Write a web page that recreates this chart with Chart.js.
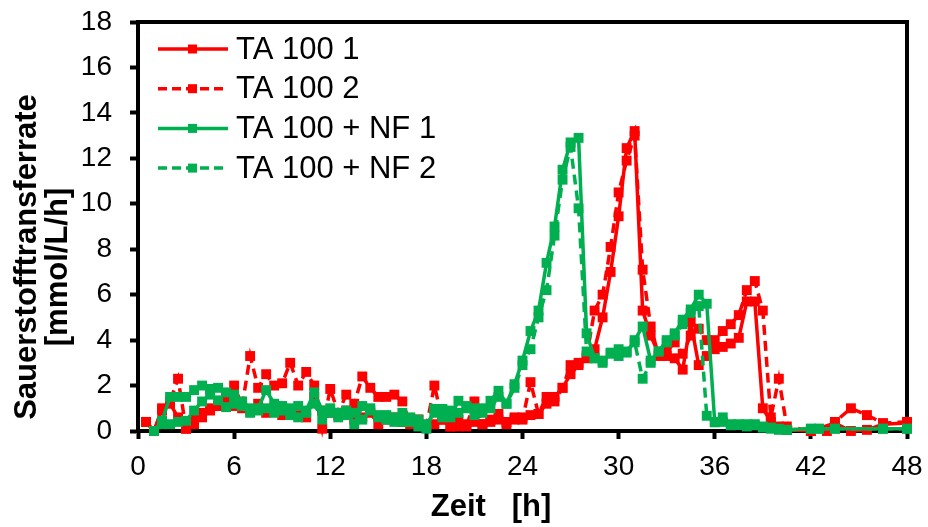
<!DOCTYPE html>
<html>
<head>
<meta charset="utf-8">
<script src="https://cdn.jsdelivr.net/npm/chart.js@4.4.0/dist/chart.umd.min.js"></script>
<style>
  html, body { margin: 0; padding: 0; background: #fff; }
  #wrap { width: 928px; height: 527px; }
</style>
</head>
<body>
<div id="wrap"><canvas id="otrChart" width="928" height="527"></canvas></div>
<script>
// sampling times [h]
const zeit = [
  0.5, 1, 1.5, 2, 2.5, 3, 3.5, 4, 4.5, 5, 5.5, 6,
  6.5, 7, 7.5, 8, 8.5, 9, 9.5, 10, 10.5, 11, 11.5, 12,
  12.5, 13, 13.5, 14, 14.5, 15, 15.5, 16, 16.5, 17, 17.5, 18,
  18.5, 19, 19.5, 20, 20.5, 21, 21.5, 22, 22.5, 23, 23.5, 24,
  24.5, 25, 25.5, 26, 26.5, 27, 27.5, 28, 28.5, 29, 29.5, 30,
  30.5, 31, 31.5, 32, 32.5, 33, 33.5, 34, 34.5, 35, 35.5, 36,
  36.5, 37, 37.5, 38, 38.5, 39, 39.5, 40, 40.5, 41, 41.5, 42,
  42.5, 43, 43.5, 44, 44.5, 45, 45.5, 46, 46.5, 47, 47.5, 48
];

// OTR [mmol/L/h], null = no sample
const ta100_1 = [
  0.4, 0.0, 1.0, 1.2, 0.6, 0.1, 0.5, 0.8, 1.0, 1.1, 1.3, 1.1,
  1.0, 0.9, 1.2, 0.8, 1.0, 0.7, 0.9, 0.8, 0.6, 1.5, 0.9, 0.8,
  0.7, 0.9, 0.5, 0.6, 0.8, 0.3, 0.5, 0.6, 0.4, 0.3, 0.5, 0.2,
  0.3, 0.5, 0.2, 0.2, 0.3, 0.4, 0.3, 0.4, 0.5, 0.4, 0.5, 0.6,
  0.7, 0.75, 1.2, 1.5, 1.9, 2.5, 2.9, 3.2, 3.6, 5.0, 7.0, 9.45,
  12.45, 13.2, 5.3, 4.2, 3.4, 3.3, 3.2, 2.7, 4.8, 2.9, 3.3, 3.6,
  3.7, 3.85, 4.1, 5.7, 5.7, 1.0, 0.4, 0.2, 0.05, null, null, 0.0,
  null, null, 0.35, null, 0.0, null, 0.05, null, 0.3, null, null, 0.35
];
const ta100_2 = [
  0.4, 0.0, 0.9, 1.3, 2.3, 0.1, 0.3, 0.6, 0.9, 1.1, 1.5, 2.0,
  1.1, 3.3, 1.9, 2.5, 2.0, 2.1, 3.0, 2.0, 2.6, 2.0, 0.1, 1.85,
  0.8, 1.6, 1.2, 2.4, 1.9, 1.5, 1.5, 1.6, 1.3, 0.3, 0.5, 0.2,
  2.0, 0.5, 0.2, 0.5, 0.2, 1.3, 0.3, 0.5, 0.75, 0.3, 0.6, 0.5,
  2.15, 0.75, 1.5, 1.3, 1.9, 2.9, 3.0, 3.3, 5.3, 6.0, 8.1, 10.5,
  11.9, 13.0, 7.1, 4.6, 3.3, 3.5, 3.9, 3.4, 4.2, 4.5, 4.0, 4.0,
  4.4, 4.7, 5.1, 6.2, 6.6, 5.3, 0.6, 2.3, 0.2, null, null, 0.0,
  null, 0.0, 0.4, null, 1.0, null, 0.7, null, 0.35, null, null, 0.4
];
const ta100nf_1 = [
  null, 0.0, 0.45, 1.5, 1.5, 1.5, 1.8, 2.0, 1.85, 1.9, 1.7, 1.6,
  1.1, 0.8, 1.0, 1.8, 1.2, 1.1, 0.7, 1.1, 0.9, 1.7, 0.9, 1.0,
  0.8, 0.9, 0.3, 1.1, 1.0, 0.7, 0.7, 0.4, 0.8, 0.4, 0.2, 0.1,
  0.97, 0.97, 0.6, 1.33, 1.0, 1.0, 0.8, 1.33, 1.77, 1.2, 2.06, 3.1,
  4.4, 5.3, 7.4, 9.0, 11.5, 12.7, 12.9, 4.3, 3.2, 3.0, 3.45, 3.6,
  3.45, 4.0, 4.6, 3.1, 3.5, 4.0, 4.3, 4.9, 5.35, 6.0, 5.6, 0.38,
  0.6, 0.3, 0.26, 0.3, 0.3, 0.2, 0.15, 0.1, 0.05, null, null, 0.1,
  0.1, null, 0.1, null, null, null, null, null, 0.1, null, null, 0.1
];
const ta100nf_2 = [
  null, 0.0, 0.3, 0.3, 0.4, 0.45, 0.9, 1.3, 1.6, 1.35, 1.05, 1.2,
  1.3, 1.0, 0.9, 1.0, 0.8, 0.9, 1.0, 0.6, 0.8, 1.2, 0.5, 0.8,
  0.6, 0.7, 0.8, 0.5, 0.9, 0.6, 0.5, 0.6, 0.4, 0.6, 0.5, 0.3,
  0.8, 0.6, 0.9, 0.8, 1.1, 0.7, 1.0, 1.0, 1.5, 1.2, 1.9, 2.9,
  3.6, 5.0, 6.2, 8.6, 11.06, 12.5, 9.8, 3.5, 3.2, 3.1, 3.4, 3.3,
  3.5, 3.9, 2.3, 3.0, 3.5, 3.9, 4.2, 4.7, 5.2, 5.5, 0.67, 0.4,
  0.4, 0.25, 0.3, 0.2, 0.25, 0.15, 0.1, 0.05, 0.05, null, null, 0.1,
  0.1, null, 0.1, null, null, null, null, null, 0.1, null, null, 0.1
];

const xTicks = [0, 6, 12, 18, 24, 30, 36, 42, 48];
const yTicks = [0, 2, 4, 6, 8, 10, 12, 14, 16, 18];

const ROT = '#FF0000';
const GRUEN = '#00B050';
const FONT = '"Liberation Sans", Arial, sans-serif';

function toPoints(values) {
  return zeit.map((t, i) => ({ x: t, y: values[i] }));
}

function series(label, values, color, dashed, order) {
  return {
    label: label,
    data: toPoints(values),
    borderColor: color,
    backgroundColor: color,
    borderWidth: 3.5,
    borderDash: dashed ? [10, 6] : [],
    pointStyle: 'rect',
    pointRadius: 7,
    pointBorderWidth: 0,
    pointHoverRadius: 7,
    spanGaps: true,
    tension: 0,
    clip: false,
    order: order
  };
}

// legend drawn inside the plot, line + marker like the series
const innerLegend = {
  id: 'innerLegend',
  afterDraw(chart) {
    const ctx = chart.ctx;
    const x0 = chart.chartArea.left + 20;
    ctx.save();
    chart.data.datasets.forEach((ds, i) => {
      const y = chart.chartArea.top + 27 + i * 39.7;
      ctx.strokeStyle = ds.borderColor;
      ctx.lineWidth = 3.5;
      ctx.setLineDash(ds.borderDash.length ? [9, 5] : []);
      ctx.beginPath();
      ctx.moveTo(x0, y);
      ctx.lineTo(x0 + 70, y);
      ctx.stroke();
      ctx.setLineDash([]);
      ctx.fillStyle = ds.borderColor;
      ctx.fillRect(x0 + 30, y - 4.5, 9, 9);
      ctx.fillStyle = '#000';
      ctx.font = '31px ' + FONT;
      ctx.textBaseline = 'middle';
      ctx.textAlign = 'left';
      ctx.fillText(ds.label, x0 + 78, y + 1);
    });
    ctx.restore();
  }
};

// top and right edges of the plot frame
const frame = {
  id: 'frame',
  beforeDatasetsDraw(chart) {
    const { ctx, chartArea: a } = chart;
    ctx.save();
    ctx.strokeStyle = '#000';
    ctx.lineWidth = 4;
    ctx.beginPath();
    ctx.moveTo(a.left, a.top);
    ctx.lineTo(a.right, a.top);
    ctx.lineTo(a.right, a.bottom);
    ctx.stroke();
    ctx.restore();
  }
};

// axis titles
const axisTitles = {
  id: 'axisTitles',
  afterDraw(chart) {
    const ctx = chart.ctx;
    ctx.save();
    ctx.fillStyle = '#000';
    ctx.font = 'bold 31px ' + FONT;
    ctx.textAlign = 'center';
    ctx.textBaseline = 'middle';
    ctx.fillText('Zeit   [h]', 491, 507);
    ctx.save();
    ctx.translate(27, 257);
    ctx.rotate(-Math.PI / 2);
    ctx.fillText('Sauerstofftransferrate', 0, 0);
    ctx.restore();
    ctx.save();
    ctx.translate(58, 267);
    ctx.rotate(-Math.PI / 2);
    ctx.fillText('[mmol/L/h]', 0, 0);
    ctx.restore();
    ctx.restore();
  }
};

new Chart(document.getElementById('otrChart'), {
  type: 'line',
  data: {
    datasets: [
      series('TA 100 1', ta100_1, ROT, false, 4),
      series('TA 100 2', ta100_2, ROT, true, 3),
      series('TA 100 + NF 1', ta100nf_1, GRUEN, false, 2),
      series('TA 100 + NF 2', ta100nf_2, GRUEN, true, 1)
    ]
  },
  options: {
    responsive: false,
    animation: false,
    events: [],
    layout: { padding: { top: 22, right: 21, left: 0, bottom: 0 } },
    plugins: {
      legend: { display: false },
      tooltip: { enabled: false }
    },
    scales: {
      x: {
        type: 'linear',
        min: 0,
        max: 48,
        afterFit(scale) {
          scale.height = 96;
          scale.paddingLeft = 0;
          scale.paddingRight = 0;
        },
        afterBuildTicks(scale) { scale.ticks = xTicks.map(v => ({ value: v })); },
        grid: { drawOnChartArea: false, drawTicks: true, tickLength: 8, tickWidth: 4, tickColor: '#000' },
        border: { color: '#000', width: 4 },
        ticks: { color: '#000', font: { family: FONT, size: 28 }, padding: 11, maxRotation: 0 }
      },
      y: {
        min: 0,
        max: 18,
        afterFit(scale) {
          scale.width = 138;
          scale.paddingTop = 0;
          scale.paddingBottom = 0;
        },
        afterBuildTicks(scale) { scale.ticks = yTicks.map(v => ({ value: v })); },
        grid: { drawOnChartArea: false, drawTicks: true, tickLength: 8, tickWidth: 4, tickColor: '#000' },
        border: { color: '#000', width: 4 },
        ticks: { color: '#000', font: { family: FONT, size: 28 }, padding: 18 }
      }
    }
  },
  plugins: [frame, innerLegend, axisTitles]
});
</script>
</body>
</html>
